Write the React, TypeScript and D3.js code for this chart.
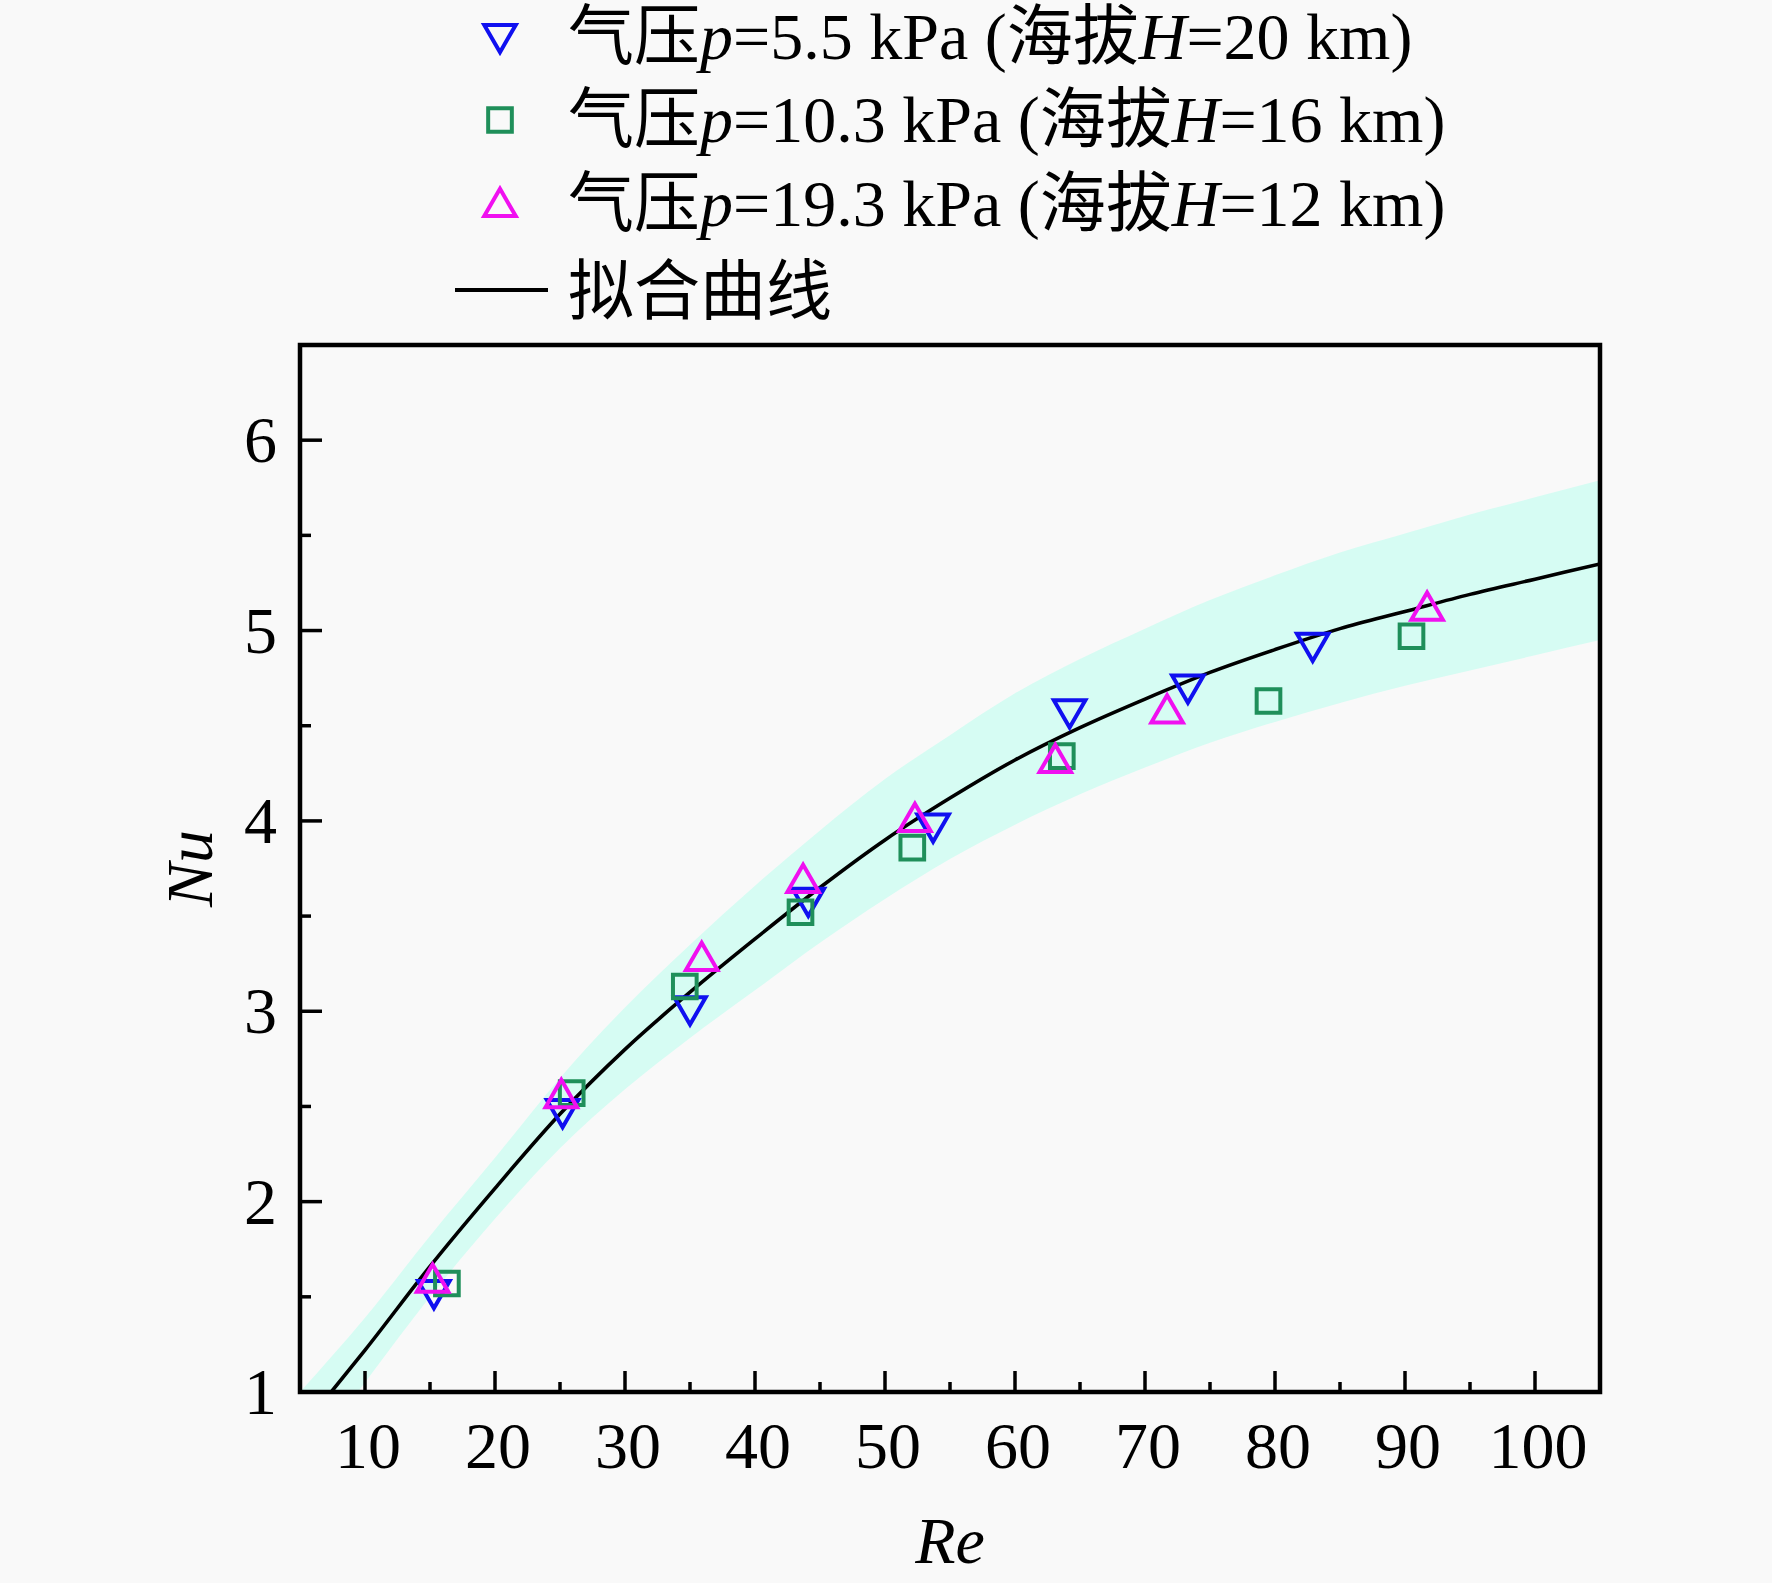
import React from "react";
import * as d3 from "d3";

// ---- data ----
const reP55 = [15.3, 25.2, 35.0, 44.1, 53.7, 64.2, 73.3, 82.9];
const nuP55 = [1.52, 2.47, 3.01, 3.58, 3.97, 4.57, 4.70, 4.92];

const reP103 = [16.3, 25.9, 34.6, 43.5, 52.1, 63.6, 79.5, 90.5];
const nuP103 = [1.57, 2.57, 3.13, 3.52, 3.86, 4.34, 4.63, 4.97];

const reP193 = [15.2, 25.1, 35.9, 43.7, 52.3, 63.1, 71.7, 91.7];
const nuP193 = [1.59, 2.56, 3.28, 3.69, 4.01, 4.32, 4.58, 5.12];

const fitRe = [5, 7.4, 10, 15, 20, 25, 30, 35, 40, 45, 50, 55, 60, 65, 70, 75, 80, 85, 90, 95, 100, 105];
const fitNu = [0.8, 1.0, 1.22, 1.66, 2.07, 2.46, 2.8, 3.1, 3.38, 3.65, 3.9, 4.12, 4.32, 4.49, 4.64, 4.78, 4.9, 5.01, 5.1, 5.19, 5.27, 5.35];

const bandRe = [5, 10, 15, 20, 25, 30, 35, 40, 45, 50, 55, 60, 65, 70, 75, 80, 85, 90, 95, 100, 105];
const bandUpper = [1.0, 1.39, 1.82, 2.23, 2.65, 3.02, 3.35, 3.66, 3.95, 4.22, 4.45, 4.67, 4.85, 5.01, 5.16, 5.29, 5.41, 5.51, 5.61, 5.7, 5.79];
const bandLower = [0.6, 1.05, 1.5, 1.91, 2.28, 2.59, 2.86, 3.11, 3.36, 3.59, 3.8, 3.98, 4.14, 4.28, 4.41, 4.52, 4.62, 4.71, 4.79, 4.87, 4.95];

const xTicks = [10, 20, 30, 40, 50, 60, 70, 80, 90, 100];
const xMinorTicks = [15, 25, 35, 45, 55, 65, 75, 85, 95];
const yTicks = [1, 2, 3, 4, 5, 6];
const yMinorTicks = [1.5, 2.5, 3.5, 4.5, 5.5];

const legendItems = [
  { kind: "down", color: "#1010f0", p: "5.5", h: "20" },
  { kind: "square", color: "#1f8f5a", p: "10.3", h: "16" },
  { kind: "up", color: "#f010f0", p: "19.3", h: "12" },
];

const W = 1772;
const H = 1583;
const M = { left: 300, right: 1600, top: 345, bottom: 1392 };

const SERIF = "'Liberation Serif', 'Times New Roman', 'Noto Sans CJK SC', serif";
const FS = 66;

export default function App() {
  const x = d3.scaleLinear().domain([5, 105]).range([M.left, M.right]);
  const y = d3.scaleLinear().domain([1, 6.5]).range([M.bottom, M.top]);

  const bandData = bandRe.map((r, i) => ({ r, u: bandUpper[i], l: bandLower[i] }));
  const area = d3
    .area<{ r: number; u: number; l: number }>()
    .x((d) => x(d.r))
    .y0((d) => y(d.l))
    .y1((d) => y(d.u))
    .curve(d3.curveMonotoneX);

  const fitData = fitRe.map((r, i) => ({ r, n: fitNu[i] }));
  const line = d3
    .line<{ r: number; n: number }>()
    .x((d) => x(d.r))
    .y((d) => y(d.n))
    .curve(d3.curveMonotoneX);

  const triPath = d3.symbol(d3.symbolTriangle, 430)() as string;
  const sqPath = d3.symbol(d3.symbolSquare, 560)() as string;

  const marker = (kind: string, cx: number, cy: number, color: string, key: string) => {
    if (kind === "square") {
      return <path key={key} d={sqPath} transform={`translate(${cx},${cy})`} fill="none" stroke={color} strokeWidth={4} />;
    }
    const rot = kind === "down" ? 180 : 0;
    const dy = kind === "down" ? -3 : 3;
    return (
      <path
        key={key}
        d={triPath}
        transform={`translate(${cx},${cy + dy}) rotate(${rot})`}
        fill="none"
        stroke={color}
        strokeWidth={4}
        strokeLinejoin="miter"
      />
    );
  };

  const series = [
    { kind: "down", color: legendItems[0].color, re: reP55, nu: nuP55 },
    { kind: "square", color: legendItems[1].color, re: reP103, nu: nuP103 },
    { kind: "up", color: legendItems[2].color, re: reP193, nu: nuP193 },
  ];

  const legendY = [37, 120, 204, 290];
  const legendSymX = 500;
  const legendTextX = 568;

  return (
    <div style={{ position: "fixed", left: 0, top: 0, width: W, height: H }}>
      <svg width={W} height={H} viewBox={`0 0 ${W} ${H}`} style={{ display: "block" }}>
        <rect x={0} y={0} width={W} height={H} fill="#f9f9f9" />
        <defs>
          <clipPath id="plotClip">
            <rect x={M.left} y={M.top} width={M.right - M.left} height={M.bottom - M.top} />
          </clipPath>
        </defs>

        {/* confidence band */}
        <path d={area(bandData) as string} fill="#d6fcf3" stroke="none" clipPath="url(#plotClip)" />

        {/* fit curve */}
        <path d={line(fitData) as string} fill="none" stroke="#000" strokeWidth={3.6} clipPath="url(#plotClip)" />

        {/* data points */}
        {series.map((s, si) =>
          s.re.map((r, i) => marker(s.kind, x(r), y(s.nu[i]), s.color, `p${si}-${i}`))
        )}

        {/* frame */}
        <rect
          x={M.left}
          y={M.top}
          width={M.right - M.left}
          height={M.bottom - M.top}
          fill="none"
          stroke="#000"
          strokeWidth={4.5}
        />

        {/* x ticks */}
        {xTicks.map((t) => (
          <line key={`xt${t}`} x1={x(t)} x2={x(t)} y1={M.bottom} y2={M.bottom - 21} stroke="#000" strokeWidth={3.5} />
        ))}
        {xMinorTicks.map((t) => (
          <line key={`xm${t}`} x1={x(t)} x2={x(t)} y1={M.bottom} y2={M.bottom - 10} stroke="#000" strokeWidth={3.5} />
        ))}
        {xTicks.map((t) => (
          <text
            key={`xl${t}`}
            x={x(t) + 3}
            y={1468}
            textAnchor="middle"
            fontFamily={SERIF}
            fontSize={FS}
            fill="#000"
          >
            {t}
          </text>
        ))}

        {/* y ticks */}
        {yTicks.map((t) => (
          <line key={`yt${t}`} x1={M.left} x2={M.left + 22} y1={y(t)} y2={y(t)} stroke="#000" strokeWidth={3.5} />
        ))}
        {yMinorTicks.map((t) => (
          <line key={`ym${t}`} x1={M.left} x2={M.left + 11} y1={y(t)} y2={y(t)} stroke="#000" strokeWidth={3.5} />
        ))}
        {yTicks.map((t) => (
          <text
            key={`yl${t}`}
            x={277}
            y={y(t) + 22}
            textAnchor="end"
            fontFamily={SERIF}
            fontSize={FS}
            fill="#000"
          >
            {t}
          </text>
        ))}

        {/* axis titles */}
        <text x={(M.left + M.right) / 2} y={1563} textAnchor="middle" fontFamily={SERIF} fontSize={FS} fontStyle="italic" fill="#000">
          Re
        </text>
        <text
          transform={`translate(212, ${(M.top + M.bottom) / 2}) rotate(-90)`}
          textAnchor="middle"
          fontFamily={SERIF}
          fontSize={FS}
          fontStyle="italic"
          fill="#000"
        >
          Nu
        </text>

        {/* legend */}
        {legendItems.map((it, i) => (
          <g key={`lg${i}`}>
            {marker(it.kind, legendSymX, legendY[i], it.color, `lm${i}`)}
            <text x={legendTextX} y={legendY[i] + 22} fontFamily={SERIF} fontSize={FS} fill="#000">
              <tspan>气压</tspan>
              <tspan fontStyle="italic">p</tspan>
              <tspan>{`=${it.p} kPa (海拔`}</tspan>
              <tspan fontStyle="italic">H</tspan>
              <tspan>{`=${it.h} km)`}</tspan>
            </text>
          </g>
        ))}
        <line x1={455} x2={548} y1={legendY[3]} y2={legendY[3]} stroke="#000" strokeWidth={4} />
        <text x={legendTextX} y={legendY[3] + 24} fontFamily={SERIF} fontSize={FS} fill="#000">
          拟合曲线
        </text>
      </svg>
    </div>
  );
}
